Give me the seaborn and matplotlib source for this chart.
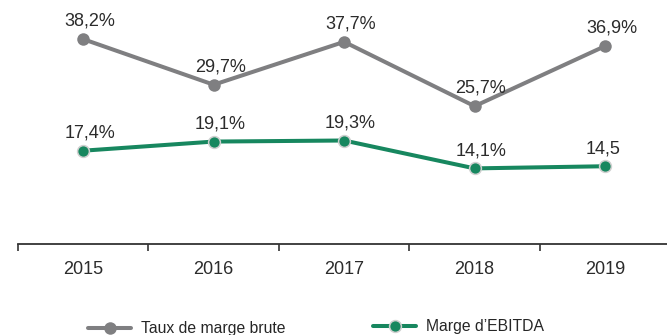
import matplotlib
matplotlib.use("Agg")
import matplotlib.pyplot as plt
import seaborn as sns
import pandas as pd

years = ["2015", "2016", "2017", "2018", "2019"]
marge_brute = [38.2, 29.7, 37.7, 25.7, 36.9]
marge_ebitda = [17.4, 19.1, 19.3, 14.1, 14.5]
labels_brute = ["38,2%", "29,7%", "37,7%", "25,7%", "36,9%"]
labels_ebitda = ["17,4%", "19,1%", "19,3%", "14,1%", "14,5"]

series_names = ["Taux de marge brute", "Marge d\u2019EBITDA"]
GREY = "#7f7f81"
GREEN = "#17875f"

sns.set_theme(style="white")
plt.rcParams["font.family"] = ["Liberation Sans", "DejaVu Sans"]

pos = list(range(len(years)))
df_brute = pd.DataFrame({"pos": pos, "value": marge_brute})
df_ebitda = pd.DataFrame({"pos": pos, "value": marge_ebitda})

fig = plt.figure(figsize=(6.67, 3.35), dpi=100)
ax = fig.add_axes([18 / 667, 91 / 335, 649 / 667, 244 / 335])

sns.lineplot(data=df_brute, x="pos", y="value", ax=ax, color=GREY,
             linewidth=2.9, marker="o", markersize=9, markeredgecolor=GREY,
             markeredgewidth=0, label=series_names[0], legend=False)
sns.lineplot(data=df_ebitda, x="pos", y="value", ax=ax, color=GREEN,
             linewidth=2.9, marker="o", markersize=8.5, markeredgecolor="#cfcfcf",
             markeredgewidth=1.1, label=series_names[1], legend=False)

for x, v, t in zip(pos, marge_brute, labels_brute):
    ax.annotate(t, (x, v), xytext=(-13.7, 9.5), textcoords="offset points",
                ha="left", va="baseline", fontsize=13, color="#2b2b2b")
for x, v, t in zip(pos, marge_ebitda, labels_ebitda):
    ax.annotate(t, (x, v), xytext=(-13.7, 9.5), textcoords="offset points",
                ha="left", va="baseline", fontsize=13, color="#2b2b2b")

ax.set_xlim(-0.5, 4.475)
ax.set_ylim(0, 45.5)

# category boundaries carry the tick marks, labels sit under each category
ax.set_xticks([p - 0.5 for p in pos])
ax.set_xticklabels([])
ax.set_xticks(pos, minor=True)
ax.set_xticklabels(years, minor=True)
ax.tick_params(axis="x", which="major", direction="out", length=5, width=1.2,
               color="#333333", bottom=True)
ax.tick_params(axis="x", which="minor", length=0, pad=12, labelsize=13,
               labelcolor="#2b2b2b")
ax.set_yticks([])
ax.set_xlabel("")
ax.set_ylabel("")
for s in ["left", "right", "top"]:
    ax.spines[s].set_visible(False)
ax.spines["bottom"].set_color("#333333")
ax.spines["bottom"].set_linewidth(1.3)

handles = ax.get_lines()[:2]
leg_kw = dict(loc="center left", frameon=False, fontsize=11.3,
              handlelength=2.75, handletextpad=0.65, borderpad=0,
              borderaxespad=0)
fig.legend([handles[0]], [series_names[0]],
           bbox_to_anchor=(88 / 667, 1 - 329 / 335), **leg_kw)
fig.legend([handles[1]], [series_names[1]],
           bbox_to_anchor=(373 / 667, 1 - 327 / 335), **leg_kw)

fig.savefig("out.png", dpi=100)
